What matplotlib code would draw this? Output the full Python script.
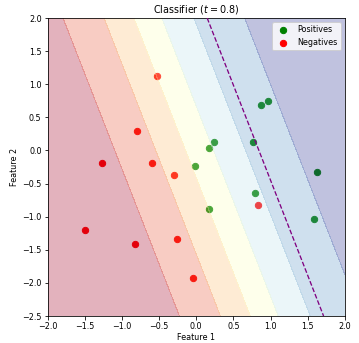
import numpy as np
import matplotlib
matplotlib.use("Agg")
import matplotlib.pyplot as plt

# sample points
pos_x = [-0.02, 0.17, 0.24, 0.76, 0.87, 0.96, 1.62, 0.17, 0.79, 1.58]
pos_y = [-0.23, 0.04, 0.13, 0.12, 0.69, 0.75, -0.32, -0.89, -0.64, -1.04]
neg_x = [-0.53, -0.79, -1.27, -0.59, -0.30, -1.50, -0.83, -0.26, -0.04, 0.83]
neg_y = [1.13, 0.30, -0.19, -0.19, -0.37, -1.20, -1.41, -1.34, -1.93, -0.83]

# estimated logistic model behind the background
w1, w2, bias = 1.61, 0.56, 0.03
threshold = 0.8
levels = [0.0, 0.15, 0.3, 0.45, 0.6, 0.75, 0.9, 1.05]

plt.rcParams["font.size"] = 8
plt.rcParams["xtick.major.pad"] = 2.5
plt.rcParams["ytick.major.pad"] = 2.5

xx, yy = np.meshgrid(np.linspace(-2.0, 2.0, 300), np.linspace(-2.5, 2.0, 300))
prob = 1.0 / (1.0 + np.exp(-(w1 * xx + w2 * yy + bias)))

fig = plt.figure(figsize=(359 / 72, 343 / 72), dpi=72)
ax = fig.add_axes([47.5 / 359, 27 / 343, 297.5 / 359, 298 / 343])

ax.scatter(pos_x, pos_y, c="green", s=40, label="Positives", zorder=1)
ax.scatter(neg_x, neg_y, c="red", s=40, label="Negatives", zorder=1)
# first and last band take the ends of the colormap
ax.contourf(xx, yy, prob, levels=levels, cmap="RdYlBu", alpha=0.3,
            vmin=0.075, vmax=0.975, zorder=2)
ax.contour(xx, yy, prob, levels=[threshold], colors="purple",
           linestyles="--", linewidths=1.3, zorder=3)

ax.set_xlim(-2.0, 2.0)
ax.set_ylim(-2.5, 2.0)
ax.set_title(f"Classifier ($t = {threshold}$)")
ax.set_xlabel("Feature 1", labelpad=2)
ax.set_ylabel("Feature 2", labelpad=3)
ax.legend(loc="upper right")

fig.savefig("out.png", dpi=72)
